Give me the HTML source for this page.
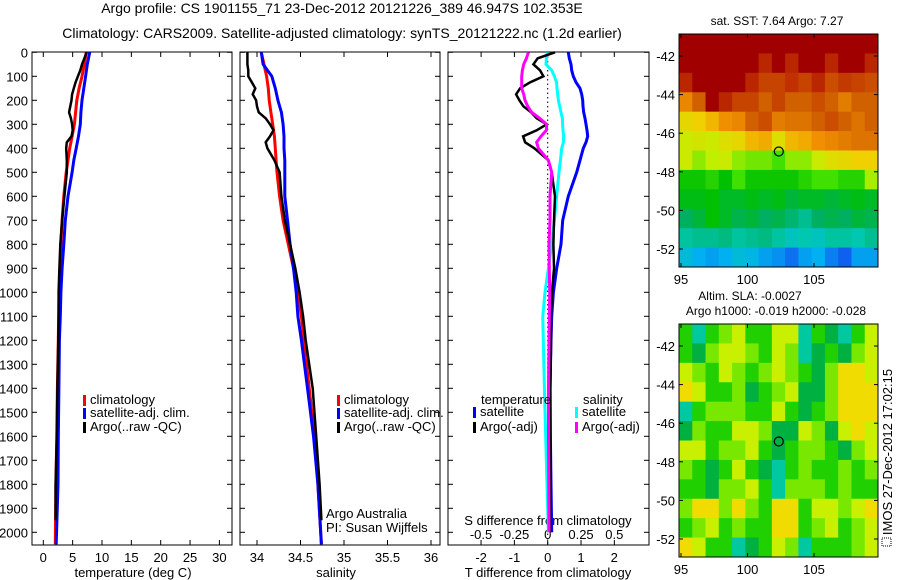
<!DOCTYPE html>
<html><head><meta charset="utf-8">
<style>
html,body{margin:0;padding:0;background:#fff;}
svg{display:block;font-family:"Liberation Sans",sans-serif;}
text{fill:#000;}
</style></head>
<body>
<svg id="chart" width="900" height="580" viewBox="0 0 900 580" xmlns="http://www.w3.org/2000/svg">
<text x="342" y="13" font-size="14" text-anchor="middle">Argo profile: CS 1901155_71 23-Dec-2012 20121226_389 46.947S 102.353E</text>
<text x="342" y="38" font-size="14" text-anchor="middle">Climatology: CARS2009. Satellite-adjusted climatology: synTS_20121222.nc (1.2d earlier)</text>
<g id="g"></g>
</svg>
<script>
// ---------- data ----------
const depthTicks = [0,100,200,300,400,500,600,700,800,900,1000,1100,1200,1300,1400,1500,1600,1700,1800,1900,2000];
const tempTicks = [0,5,10,15,20,25,30];
const salTicks = [34,34.5,35,35.5,36];
const salTickLabels = ["34","34.5","35","35.5","36"];
const dTTicks = [-2,-1,0,1,2];
const dSTicks = [-0.5,-0.25,0,0.25,0.5];
const dSTickLabels = ["-0.5","-0.25","0","0.25","0.5"];

const climDepth = [0,50,100,150,200,250,300,350,400,450,500,600,700,800,900,1000,1100,1200,1400,1600,1800,2050];
const tempClim = [7.3,7.0,6.6,6.1,5.7,5.5,5.3,4.9,4.5,4.2,3.9,3.5,3.2,3.0,2.85,2.7,2.62,2.55,2.4,2.3,2.15,2.05];
const tempSat = [7.9,7.5,7.2,6.9,6.6,6.4,6.3,6.0,5.6,5.2,4.9,4.2,3.75,3.5,3.2,3.0,2.9,2.75,2.65,2.55,2.5,2.2];
const salClim = [34.05,34.08,34.11,34.13,34.14,34.16,34.18,34.20,34.21,34.22,34.23,34.26,34.30,34.36,34.42,34.47,34.51,34.54,34.60,34.66,34.70,34.74];
const salSat = [34.05,34.07,34.17,34.21,34.24,34.28,34.30,34.31,34.31,34.32,34.32,34.32,34.35,34.38,34.42,34.45,34.47,34.51,34.58,34.65,34.70,34.74];

const argoDepth = [0,25,50,75,100,125,150,175,200,225,250,275,300,325,350,375,400,450,500,600,700,800,900,1000,1100,1200,1400,1600,1800,1950];
const tempArgo = [7.4,7.0,6.6,6.3,5.9,5.5,5.2,4.9,4.8,4.6,4.4,4.7,4.9,5.0,4.8,4.0,3.9,4.0,4.0,3.6,3.2,2.9,2.75,2.6,2.6,2.55,2.4,2.3,2.1,2.1];
const salArgo = [33.89,33.89,33.89,33.90,33.90,33.94,33.98,33.95,33.99,34.00,34.02,34.10,34.15,34.19,34.15,34.10,34.12,34.20,34.26,34.28,34.32,34.38,34.44,34.49,34.53,34.56,34.64,34.68,34.72,34.74];

const diffDepth = [0,25,50,75,100,125,150,175,200,225,250,275,300,325,350,375,400,450,500,600,700,800,900,1000,1100,1200,1400,1600,1800,2000];
const dTSat = [0.62,0.65,0.7,0.72,0.77,0.85,0.97,1.02,1.05,1.06,1.08,1.12,1.15,1.18,1.2,1.15,1.07,0.97,0.87,0.62,0.45,0.40,0.27,0.17,0.12,0.1,0.07,0.08,0.1,0.12];
const dTArgo = [0.22,-0.3,-0.43,-0.23,-0.13,-0.53,-0.83,-0.95,-0.85,-0.73,-0.5,-0.33,-0.03,-0.33,-0.74,-0.68,-0.4,0.02,0.12,0.22,0.19,0.17,0.19,0.13,0.1,0.1,0.08,0.08,0.08,0.08];
const dSSat = [-0.003,-0.01,-0.013,0.03,0.05,0.067,0.07,0.075,0.08,0.09,0.1,0.11,0.112,0.115,0.12,0.118,0.105,0.095,0.085,0.067,0.05,0.03,0.005,-0.02,-0.037,-0.033,-0.025,-0.015,-0.005,0.005];
const dSArgo = [-0.145,-0.16,-0.18,-0.19,-0.195,-0.195,-0.195,-0.18,-0.17,-0.15,-0.12,-0.06,-0.008,-0.01,-0.05,-0.083,-0.07,0.005,0.03,0.017,0.017,0.01,0.012,0.015,0.012,0.01,0.006,0.006,0.008,0.01];

const lonTicks = [95,100,105];
const latTicks = [-42,-44,-46,-48,-50,-52];
const sstGrid = [
[10,10,10,10,10,10,10,10,10,10,10,10,10,10,10],
[10,10,10,10,10,10,9.6,10,9.6,10,10,9.6,10,10,9.6],
[9.6,10,10,10,10,9.6,9.3,9.3,9.5,9.3,9.6,9.2,9.4,9.3,9.2],
[8.6,9.0,10,9.6,9.3,9.3,9.0,9.3,9.0,9.0,9.2,9.0,8.7,9.0,9.0],
[7.9,8.0,8.2,8.5,8.6,9.0,9.2,8.7,8.8,8.8,9.0,9.2,9.0,8.8,9.0],
[7.6,7.7,7.6,7.8,7.9,8.2,8.3,7.8,8.2,8.3,8.5,8.6,8.7,8.8,8.8],
[7.6,7.3,7.5,7.6,7.3,7.2,7.2,7.0,7.3,7.3,7.6,7.8,7.9,8.0,8.0],
[6.6,6.6,6.8,6.5,7.0,6.6,6.6,6.6,6.6,6.8,7.0,7.0,6.8,6.8,7.4],
[6.4,6.4,6.5,6.3,6.3,6.4,6.3,6.4,6.2,6.3,6.3,6.2,6.3,6.4,6.3],
[6.0,6.2,6.5,6.3,6.1,6.2,6.0,6.1,5.9,5.7,6.0,6.1,6.0,6.2,6.1],
[5.6,5.7,5.7,5.8,5.6,5.7,5.8,5.6,5.4,5.5,5.4,5.6,5.6,5.5,5.7],
[5.2,5.0,4.9,5.0,5.2,5.1,4.9,4.8,4.6,4.9,5.0,4.7,4.5,4.9,4.9]];
const slaGrid = [
[0,-2,0,1,2,0,0,2,2,-2,0,-1,-2,0,2],
[0,-1,1,2,2,1,0,2,1,-2,-1,0,-1,1,2],
[2,1,0,2,1,0,1,2,1,0,-1,1,3,3,2],
[3,2,0,0,1,-1,0,1,2,-1,-1,1,3,3,3],
[-2,0,1,1,1,0,0,2,0,-1,0,1,3,3,3],
[-1,1,0,0,2,2,1,-1,-1,2,1,-1,2,3,2],
[2,2,0,1,1,2,0,-1,0,1,1,0,-1,1,2],
[1,0,-1,0,2,0,-1,-2,0,1,0,0,1,0,1],
[0,0,-1,1,1,2,0,-2,1,1,1,0,1,0,0],
[1,3,3,1,3,1,0,3,3,0,2,2,1,2,3],
[0,1,2,0,1,0,0,3,3,0,1,2,0,1,2],
[3,2,0,0,-2,-1,0,2,1,-2,0,0,0,1,2]];
const argoLon = 102.353, argoLat = -46.947;

// ---------- helpers ----------
const NS="http://www.w3.org/2000/svg";
const G=document.getElementById('g');
function mk(tag,attrs,parent,txt){const e=document.createElementNS(NS,tag);for(const k in attrs)e.setAttribute(k,attrs[k]);if(txt!==undefined)e.textContent=txt;(parent||G).appendChild(e);return e;}
const yD = d => 52.3 + d*0.24;
const PT=52, PB=545;

function frame(x0,x1,name){
  const r=mk('rect',{x:x0,y:PT,width:x1-x0,height:PB-PT,fill:'none',stroke:'#000','stroke-width':1});
  
  
}
function yTicks(x0,x1,labels){
  depthTicks.forEach(d=>{
    const y=yD(d);
    mk('line',{x1:x0,x2:x0+5,y1:y,y2:y,stroke:'#000'});
    mk('line',{x1:x1,x2:x1-5,y1:y,y2:y,stroke:'#000'});
    if(labels){const t=mk('text',{x:28,y:y+5,'font-size':13,'text-anchor':'end'},G,String(d));
      
      }
  });
}
function xTicks(xs,labels,top,bottom,ly){
  xs.forEach((x,i)=>{
    if(top)mk('line',{x1:x,x2:x,y1:PT,y2:PT+5,stroke:'#000'});
    if(bottom)mk('line',{x1:x,x2:x,y1:PB,y2:PB-5,stroke:'#000'});
    if(labels){const t=mk('text',{x:x,y:ly,'font-size':13,'text-anchor':'middle'},G,labels[i]);
      
      }
  });
}
function line(vals,depths,sx,color,w,name){
  const pts=vals.map((v,i)=>sx(v).toFixed(1)+','+yD(depths[i]).toFixed(1)).join(' ');
  const p=mk('polyline',{points:pts,fill:'none',stroke:color,'stroke-width':w,'stroke-linejoin':'miter'});
  
  
}
function legend(x,y,color,label){
  const r=mk('rect',{x:x,y:y-9,width:3,height:11,fill:color});
  
  
  const t=mk('text',{x:x+7,y:y,'font-size':13},G,label);
  
  
}
function label(x,y,txt,name,anchor,size){
  const t=mk('text',{x:x,y:y,'font-size':size||13,'text-anchor':anchor||'start'},G,txt);
  
  
  return t;
}

// ---------- panel 1: temperature ----------
const sxT = v => 43.3 + v*5.87;
frame(32,232,'temperature-panel');
yTicks(32,232,true);
xTicks(tempTicks.map(sxT),tempTicks.map(String),true,true,562);
label(133,577,'temperature (deg C)','x-axis-title-temperature','middle');
line(tempClim,climDepth,sxT,'#ff0000',3,'temp-climatology-line');
line(tempSat,climDepth,sxT,'#0000ff',3,'temp-satellite-line');
line(tempArgo,argoDepth,sxT,'#000000',2.5,'temp-argo-line');
legend(83,404,'#ff0000','climatology');
legend(83,417,'#0000ff','satellite-adj. clim.');
legend(83,431,'#000000','Argo(..raw -QC)');

// ---------- panel 2: salinity ----------
const sxS = v => 257 + (v-34)*87;
frame(240,440,'salinity-panel');
yTicks(240,440,false);
xTicks(salTicks.map(sxS),salTickLabels,true,true,562);
label(336,577,'salinity','x-axis-title-salinity','middle');
line(salClim,climDepth,sxS,'#ff0000',3,'sal-climatology-line');
line(salSat,climDepth,sxS,'#0000ff',3,'sal-satellite-line');
line(salArgo,argoDepth,sxS,'#000000',2.5,'sal-argo-line');
legend(337,404,'#ff0000','climatology');
legend(337,417,'#0000ff','satellite-adj. clim.');
legend(337,431,'#000000','Argo(..raw -QC)');
label(326,518,'Argo Australia','credit-argo-australia');
label(326,532,'PI: Susan Wijffels','credit-pi');

// ---------- panel 3: differences ----------
const sxDT = v => 547.7 + v*33.3;
const sxDS = v => 547.7 + v*133.3;
frame(448,649,'difference-panel');
yTicks(448,649,false);
xTicks(dTTicks.map(sxDT),dTTicks.map(String),true,false,562);
xTicks(dSTicks.map(sxDS),dSTickLabels,false,true,539);
label(548,525,'S difference from climatology','s-axis-title','middle');
label(548,577,'T difference from climatology','t-axis-title','middle');
const zl=mk('line',{x1:sxDT(0),x2:sxDT(0),y1:PT,y2:PB,stroke:'#000','stroke-dasharray':'1.5,3'});


line(dSSat,diffDepth,sxDS,'#00ffff',3,'dS-satellite-line');
line(dTSat,diffDepth,sxDT,'#0000ff',3,'dT-satellite-line');
line(dTArgo,diffDepth,sxDT,'#000000',2.5,'dT-argo-line');
line(dSArgo,diffDepth,sxDS,'#ff00ff',3,'dS-argo-line');
label(481,404,'temperature','legend-title-temperature');
legend(473,416,'#0000ff','satellite');
legend(473,431,'#000000','Argo(-adj)');
label(583,404,'salinity','legend-title-salinity');
legend(575,416,'#00ffff','satellite');
legend(575,431,'#ff00ff','Argo(-adj)');

// ---------- maps ----------
const MX0=679, MX1=878;
const sxLon = lon => 681 + (lon-95)*13.3;
function rgb(c){return 'rgb('+c.join(',')+')';}
function lerpStops(stops,v){
  if(v<=stops[0][0])return rgb(stops[0][1]);
  for(let i=1;i<stops.length;i++){if(v<=stops[i][0]){const a=stops[i-1],b=stops[i],t=(v-a[0])/(b[0]-a[0]);
    return rgb([0,1,2].map(k=>Math.round(a[1][k]+(b[1][k]-a[1][k])*t)));}}
  return rgb(stops[stops.length-1][1]);
}
const sstStops=[[4.5,[16,96,240]],[5,[0,176,240]],[5.5,[0,200,176]],[6,[0,176,96]],[6.5,[0,192,0]],[7,[64,224,0]],[7.5,[192,240,0]],[8,[240,208,0]],[8.5,[240,144,0]],[9,[208,96,0]],[9.5,[192,48,0]],[10,[160,0,0]]];
const slaStops=[[-2,[0,200,160]],[-1,[0,176,64]],[0,[32,208,0]],[1,[120,232,0]],[2,[200,240,0]],[3,[240,220,0]],[4,[240,160,0]]];
function drawMap(y0,y1,grid,stops,name){
  const rows=grid.length, cols=grid[0].length;
  const cw=(MX1-MX0)/cols, ch=(y1-y0)/rows;
  const syLat = lat => y0 + 22 + (-42-lat)*19.3;
  grid.forEach((row,r)=>row.forEach((v,c)=>{
    const cell=mk('rect',{x:(MX0+c*cw).toFixed(2),y:(y0+r*ch).toFixed(2),width:(cw+0.5).toFixed(2),height:(ch+0.5).toFixed(2),fill:lerpStops(stops,v)});
    
    
  }));
  const f=mk('rect',{x:MX0,y:y0,width:MX1-MX0,height:y1-y0,fill:'none',stroke:'#000'});
  
  
  lonTicks.forEach(l=>{const x=sxLon(l);
    mk('line',{x1:x,x2:x,y1:y1,y2:y1-4,stroke:'#000'});mk('line',{x1:x,x2:x,y1:y0,y2:y0+4,stroke:'#000'});
    label(x,y1+17,String(l),'map-lon-tick-label','middle');});
  latTicks.forEach(l=>{const y=syLat(l);
    mk('line',{x1:MX0,x2:MX0+4,y1:y,y2:y,stroke:'#000'});mk('line',{x1:MX1,x2:MX1-4,y1:y,y2:y,stroke:'#000'});
    label(675,y+5,String(l),'map-lat-tick-label','end');});
  const m=mk('circle',{cx:sxLon(argoLon),cy:syLat(argoLat),r:4.5,fill:'none',stroke:'#000','stroke-width':1.2});
  
  
}
drawMap(34,267,sstGrid,sstStops,'sst-map');
drawMap(324,557,slaGrid,slaStops,'sla-map');
label(777,25,'sat. SST: 7.64  Argo: 7.27','sst-map-title','middle',12);
label(750,300,'Altim. SLA: -0.0027','sla-map-title','middle',12);
label(776,315,'Argo h1000: -0.019 h2000: -0.028','sla-map-subtitle','middle',12);
const ts=label(0,0,'IMOS 27-Dec-2012 17:02:15','timestamp-label','middle',13);
ts.setAttribute('transform','translate(892,452) rotate(-90)');
const ib=mk('rect',{x:882,y:538,width:9,height:8,fill:'none',stroke:'#000','stroke-dasharray':'1,1'});


</script>
</body></html>
